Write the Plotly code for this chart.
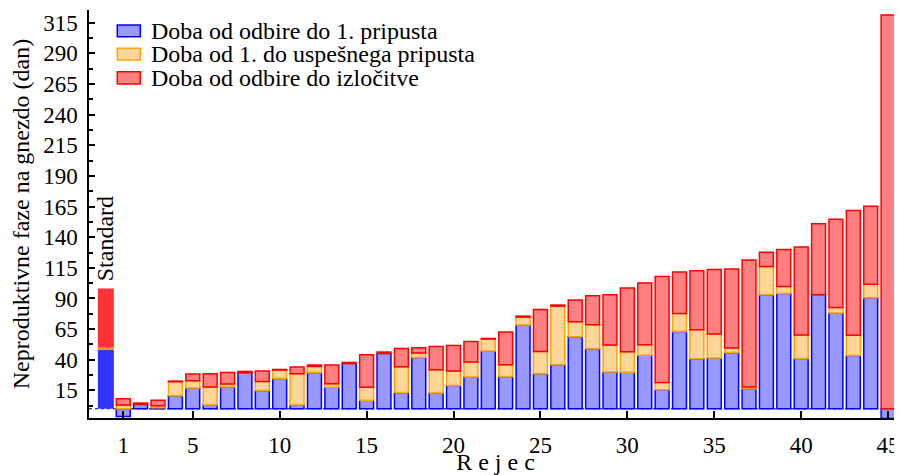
import plotly.graph_objects as go

# ---- data (days) ----
rejec = list(range(1, 46))
odbira_do_1 = [-6.2, 3.6, 0.9, 10.7, 16.9, 3.1, 17.8, 29.4, 15.0, 24.8,
               3.1, 29.7, 17.5, 37.0, 6.9, 45.2, 13.4, 41.9, 12.9, 19.1,
               25.9, 47.1, 26.4, 68.3, 28.6, 35.9, 58.8, 49.0, 30.0, 29.9,
               43.6, 15.6, 63.1, 40.8, 41.4, 46.0, 16.4, 93.0, 94.1, 41.1,
               93.0, 78.1, 43.5, 90.6, -8.0]
od1_do_uspesnega = [3.1, 0.0, 1.6, 11.4, 6.0, 14.7, 2.4, 0.0, 7.3, 6.8,
                    25.5, 4.9, 3.0, 0.0, 10.6, 0.0, 20.9, 3.6, 19.0, 11.7,
                    12.2, 9.8, 9.5, 6.5, 18.2, 47.9, 12.2, 19.6, 22.0, 16.7,
                    8.6, 5.9, 14.7, 23.7, 19.6, 3.6, 1.4, 23.1, 5.7, 19.1,
                    0.0, 4.6, 16.4, 11.1, 0.0]
do_izlocitve = [5.1, 1.1, 4.4, 0.5, 5.5, 10.8, 9.5, 1.1, 8.5, 0.5,
                5.4, 1.1, 15.2, 0.8, 26.6, 1.1, 14.9, 4.3, 19.0, 20.9,
                16.9, 0.5, 26.7, 0.8, 34.2, 0.8, 17.7, 23.6, 41.0, 52.0,
                50.5, 86.4, 33.7, 48.1, 52.6, 64.4, 103.5, 11.7, 30.2, 71.7,
                57.9, 72.0, 101.8, 63.6, 321.2]

standard_x = [0]
standard_vals = [47.9, 2.2, 48.1]

series_names = ["Doba od odbire do 1. pripusta",
                "Doba od 1. do uspešnega pripusta",
                "Doba od odbire do izločitve"]
x_ticks = [1, 5, 10, 15, 20, 25, 30, 35, 40, 45]

FONT = "Liberation Serif, DejaVu Serif, Times New Roman, serif"
fills = ["#9999ff", "#ffd699", "#ff8080"]
edges = ["#0000ff", "#ffa500", "#ff0000"]
std_fills = ["#3333ff", "#ff9900", "#ff3333"]

fig = go.Figure()

# standard bar
for val, col, nm in zip(standard_vals, std_fills, series_names):
    fig.add_trace(go.Bar(x=standard_x, y=[val], width=0.92, name="Standard " + nm,
                         marker=dict(color=col, line=dict(color=col, width=0)),
                         showlegend=False))

for vals, fc, ec, nm in zip([odbira_do_1, od1_do_uspesnega, do_izlocitve],
                            fills, edges, series_names):
    fig.add_trace(go.Bar(x=rejec, y=vals, width=0.8, name=nm,
                         marker=dict(color=fc, line=dict(color=ec, width=1.5)),
                         showlegend=False))

# zero line (dotted)
fig.add_shape(type="line", xref="paper", yref="y", x0=0, x1=1, y0=0, y1=0,
              line=dict(color="black", width=1, dash="dot"), layer="below")

# custom legend
leg_rows = [(0.9631, 0.9346, 0.9491), (0.9062, 0.8775, 0.8918), (0.8489, 0.8188, 0.8339)]
for (y1, y0, yc), fc, ec, nm in zip(leg_rows, fills, edges, series_names):
    fig.add_shape(type="rect", xref="paper", yref="paper", x0=0.0348, x1=0.0631,
                  y0=y0, y1=y1, fillcolor=fc, line=dict(color=ec, width=1.5))
    fig.add_annotation(xref="paper", yref="paper", x=0.0738, y=yc, text=nm,
                       showarrow=False, xanchor="left", yanchor="middle",
                       font=dict(family=FONT, size=24, color="black"))

fig.add_annotation(x=0, y=139, xref="x", yref="y", text="Standard", textangle=-90,
                   showarrow=False, xanchor="center", yanchor="middle",
                   font=dict(family=FONT, size=24, color="black"))

# page body has an 8px margin: figure is sized/margined to compensate
fig.update_layout(
    width=894, height=467,
    margin=dict(l=81, r=0, t=2, b=57),
    plot_bgcolor="white", paper_bgcolor="white",
    barmode="relative",
    font=dict(family=FONT, size=24, color="black"),
    showlegend=False,
)
fig.update_xaxes(
    range=[-0.97, 45.8], tickmode="array", tickvals=x_ticks,
    ticks="inside", ticklen=7, tickwidth=1.5, tickcolor="black",
    showline=True, linecolor="black", linewidth=1.5,
    showgrid=False, zeroline=False, automargin=False,
    tickfont=dict(family=FONT, size=23),
    ticklabelstandoff=6,
    title=dict(text="R e j e c", standoff=0, font=dict(family=FONT, size=24)),
)
fig.update_yaxes(
    range=[-7.5, 325.3], tick0=15, dtick=25,
    ticks="inside", ticklen=6, tickwidth=1.5, tickcolor="black",
    minor=dict(ticks="inside", ticklen=4, dtick=12.5, tick0=15, tickcolor="black", tickwidth=1.5),
    showline=True, linecolor="black", linewidth=1.5,
    showgrid=False, zeroline=False, automargin=False,
    tickfont=dict(family=FONT, size=23),
    ticklabelstandoff=5,
    title=dict(text="Neproduktivne faze na gnezdo (dan)", standoff=16,
               font=dict(family=FONT, size=24)),
)

fig.write_html("out.html")
